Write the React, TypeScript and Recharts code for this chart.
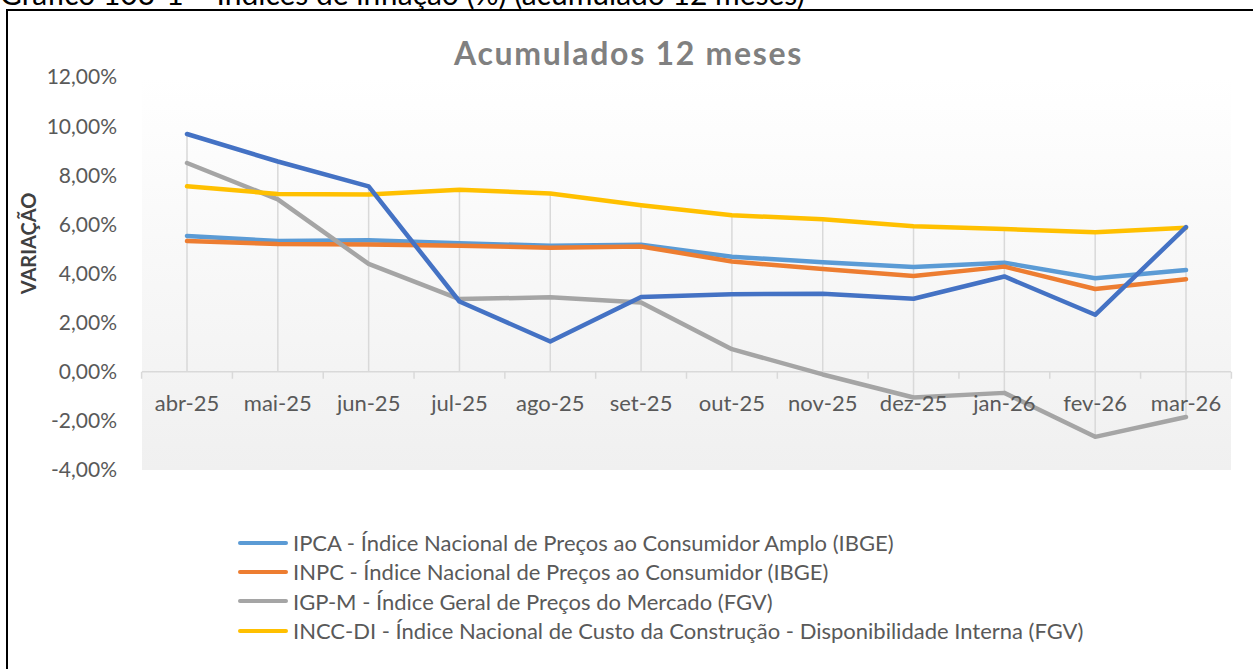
import {
  CartesianGrid,
  Label,
  Legend,
  Line,
  LineChart,
  ReferenceLine,
  XAxis,
  YAxis,
} from 'recharts'

const months = [
  'abr-25', 'mai-25', 'jun-25', 'jul-25', 'ago-25', 'set-25',
  'out-25', 'nov-25', 'dez-25', 'jan-26', 'fev-26', 'mar-26',
]

// acumulado 12 meses, em %
const ipca = [5.53, 5.32, 5.35, 5.23, 5.13, 5.17, 4.68, 4.46, 4.26, 4.44, 3.81, 4.14]
const inpc = [5.32, 5.2, 5.18, 5.13, 5.05, 5.1, 4.49, 4.18, 3.9, 4.28, 3.37, 3.77]
const igpm = [8.5, 7.02, 4.39, 2.96, 3.03, 2.82, 0.92, -0.11, -1.05, -0.86, -2.65, -1.84]
const inccdi = [7.55, 7.24, 7.22, 7.41, 7.26, 6.78, 6.37, 6.21, 5.92, 5.81, 5.68, 5.86]
// série sem entrada na legenda
const serie5 = [9.68, 8.56, 7.55, 2.86, 1.23, 3.04, 3.16, 3.18, 2.97, 3.88, 2.32, 5.89]

const yTicks = [-4, -2, 0, 2, 4, 6, 8, 10, 12]

const series = [
  { key: 'ipca', name: 'IPCA - Índice Nacional de Preços ao Consumidor Amplo (IBGE)', color: '#5b9bd5', values: ipca, legend: true },
  { key: 'inpc', name: 'INPC - Índice Nacional de Preços ao Consumidor (IBGE)', color: '#ed7d31', values: inpc, legend: true },
  { key: 'igpm', name: 'IGP-M - Índice Geral de Preços do Mercado (FGV)', color: '#a5a5a5', values: igpm, legend: true },
  { key: 'inccdi', name: 'INCC-DI - Índice Nacional de Custo da Construção - Disponibilidade Interna (FGV)', color: '#ffc000', values: inccdi, legend: true },
  { key: 'serie5', name: 'Série 5', color: '#4472c4', values: serie5, legend: false },
]

const data = months.map((month, i) => {
  const row: Record<string, string | number> = { month }
  series.forEach((s) => (row[s.key] = s.values[i]))
  return row
})

// linhas de queda: do ponto mais alto ao mais baixo, passando pelo eixo
const dropLines = months.map((month, i) => {
  const vals = series.map((s) => s.values[i])
  return { month, hi: Math.max(0, ...vals), lo: Math.min(0, ...vals) }
})

const FONT = 'Lato, "Open Sans", sans-serif'
const TEXT = '#595959'
const W = 1253
const H = 669
const X_AXIS_H = 30
const MARGIN = { top: 77, right: 22, bottom: H - 470 - X_AXIS_H, left: 0 }
const Y_MIN = -4
const Y_MAX = 12
const PLOT_H = 470 - MARGIN.top
const PLOT_W = W - 142 - MARGIN.right
const PAD = 45
const STEP = (PLOT_W - 2 * PAD) / (months.length - 1)
const ZERO_UP = (PLOT_H * (0 - Y_MIN)) / (Y_MAX - Y_MIN)

const fmtPct = (v: number) => `${v.toFixed(2).replace('.', ',')}%`

interface TickProps {
  x?: number
  y?: number
  index?: number
  payload?: { value: string }
}

// rótulos das categorias ficam junto à linha do zero, não na base do gráfico
function MonthTick({ x = 0, y = 0, index = 0, payload }: TickProps) {
  const zeroY = y - ZERO_UP
  return (
    <g>
      <line x1={x - STEP / 2} x2={x - STEP / 2} y1={zeroY} y2={zeroY + 7} stroke="#d9d9d9" strokeWidth={1.5} />
      {index === months.length - 1 && (
        <line x1={x + STEP / 2} x2={x + STEP / 2} y1={zeroY} y2={zeroY + 7} stroke="#d9d9d9" strokeWidth={1.5} />
      )}
      <text x={x} y={zeroY + 39} textAnchor="middle" fill={TEXT} fontSize={22} fontFamily={FONT}>
        {payload?.value}
      </text>
    </g>
  )
}

function LegendContent() {
  return (
    <div style={{ fontFamily: FONT, fontSize: 22, color: TEXT, textAlign: 'left' }}>
      {series
        .filter((s) => s.legend)
        .map((s) => (
          <div key={s.key} style={{ display: 'flex', alignItems: 'center', height: 29.3, whiteSpace: 'nowrap' }}>
            <span
              style={{
                display: 'inline-block',
                width: 50,
                height: 4,
                borderRadius: 2,
                background: s.color,
                marginRight: 5,
              }}
            />
            <span>{s.name}</span>
          </div>
        ))}
    </div>
  )
}

export default function App() {
  return (
    <div style={{ position: 'absolute', left: 0, top: 0, width: W, height: H, overflow: 'hidden', background: '#fff' }}>
      <div
        style={{
          position: 'absolute',
          left: 0,
          top: -22,
          fontFamily: FONT,
          fontSize: 30,
          lineHeight: '30px',
          color: '#000',
          whiteSpace: 'nowrap',
        }}
      >
        Gráfico 103-1 – Índices de inflação (%) (acumulado 12 meses)
      </div>
      <div
        style={{
          position: 'absolute',
          left: 6,
          top: 9,
          width: 1400,
          height: 800,
          border: '2px solid #000',
          boxSizing: 'border-box',
        }}
      />
      <div
        style={{
          position: 'absolute',
          left: 2,
          top: 33,
          width: W,
          textAlign: 'center',
          fontFamily: FONT,
          fontWeight: 700,
          fontSize: 32,
          letterSpacing: 1.7,
          lineHeight: '40px',
          color: '#808080',
        }}
      >
        Acumulados 12 meses
      </div>
      <div style={{ position: 'absolute', left: 0, top: 0 }}>
        <LineChart width={W} height={H} data={data} margin={MARGIN}>
          <defs>
            <linearGradient id="plotBg" x1="0" y1="0" x2="0" y2="1">
              <stop offset="0%" stopColor="#ffffff" />
              <stop offset="100%" stopColor="#f0f0f0" />
            </linearGradient>
          </defs>
          <CartesianGrid horizontal={false} vertical={false} fill="url(#plotBg)" />
          <XAxis
            dataKey="month"
            type="category"
            scale="point"
            height={X_AXIS_H}
            padding={{ left: PAD, right: PAD }}
            axisLine={false}
            tickLine={false}
            tickSize={0}
            tickMargin={0}
            interval={0}
            tick={<MonthTick />}
          />
          <YAxis
            width={142}
            domain={[Y_MIN, Y_MAX]}
            ticks={yTicks}
            tickFormatter={fmtPct}
            axisLine={false}
            tickLine={false}
            tickSize={0}
            tickMargin={25}
            tick={{ fontSize: 21, fill: TEXT, fontFamily: FONT }}
          >
            <Label
              content={({ viewBox }: any) => {
                const cx = (viewBox?.x ?? 0) + 28
                const cy = (viewBox?.y ?? 0) + (viewBox?.height ?? 0) / 2 - 30
                return (
                  <text
                    x={cx}
                    y={cy}
                    transform={`rotate(-90, ${cx}, ${cy})`}
                    textAnchor="middle"
                    dominantBaseline="central"
                    fill="#404040"
                    fontSize={20}
                    fontWeight={700}
                    fontFamily={FONT}
                  >
                    VARIAÇÃO
                  </text>
                )
              }}
            />
          </YAxis>
          {dropLines.map((d) => (
            <ReferenceLine
              key={d.month}
              segment={[
                { x: d.month, y: d.hi },
                { x: d.month, y: d.lo },
              ]}
              stroke="#d9d9d9"
              strokeWidth={1.5}
              ifOverflow="visible"
            />
          ))}
          <ReferenceLine y={0} stroke="#d9d9d9" strokeWidth={1.5} />
          <Legend
            layout="vertical"
            align="center"
            verticalAlign="middle"
            content={<LegendContent />}
            wrapperStyle={{ position: 'absolute', left: 238, top: 528, width: 950 }}
          />
          {series.map((s) => (
            <Line
              key={s.key}
              dataKey={s.key}
              name={s.name}
              stroke={s.color}
              strokeWidth={4.5}
              strokeLinecap="round"
              strokeLinejoin="round"
              dot={false}
              activeDot={false}
              legendType={s.legend ? 'line' : 'none'}
              isAnimationActive={false}
            />
          ))}
        </LineChart>
      </div>
    </div>
  )
}
